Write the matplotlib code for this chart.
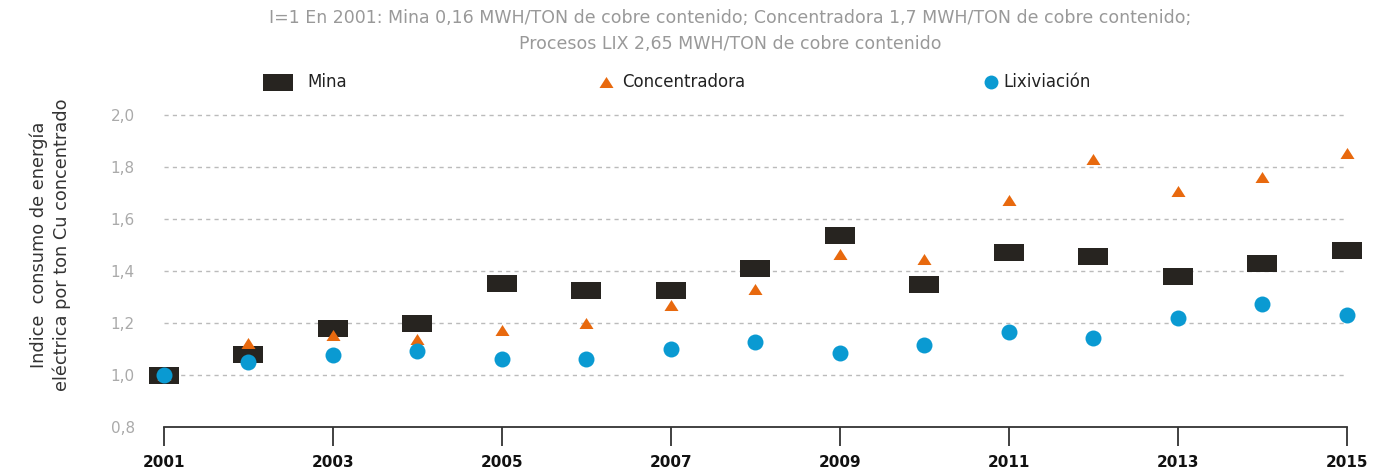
import numpy as np
import matplotlib
matplotlib.use("Agg")
import matplotlib.pyplot as plt
from matplotlib.lines import Line2D

years = np.arange(2001, 2016)
mina = [1.00, 1.078, 1.178, 1.201, 1.352, 1.325, 1.325, 1.413, 1.537, 1.348,
        1.471, 1.456, 1.382, 1.432, 1.479]
concentradora = [1.00, 1.123, 1.153, 1.136, 1.172, 1.200, 1.268, 1.332, 1.467, 1.447,
                 1.673, 1.832, 1.709, 1.763, 1.855]
lixiviacion = [1.00, 1.047, 1.076, 1.093, 1.061, 1.061, 1.099, 1.125, 1.083, 1.114,
               1.165, 1.142, 1.220, 1.273, 1.231]
series_names = ["Mina", "Concentradora", "Lixiviación"]
yticks = [0.8, 1.0, 1.2, 1.4, 1.6, 1.8, 2.0]
xticks = [2001, 2003, 2005, 2007, 2009, 2011, 2013, 2015]

c_mina = "#272420"
c_conc = "#E8690E"
c_lix = "#0A9AD2"

rect = [(-15, -8.5), (15, -8.5), (15, 8.5), (-15, 8.5), (-15, -8.5)]
tri = [(-7, -5.5), (7, -5.5), (0, 5.5), (-7, -5.5)]

fig = plt.figure(figsize=(13.98, 4.74), dpi=100)
ax = fig.add_axes([0.1173, 0.1002, 0.8462, 0.6785])

ax.plot(years, mina, ls="none", marker=rect, ms=21.6, color=c_mina, mew=0, clip_on=False, zorder=3)
ax.plot(years, concentradora, ls="none", marker=tri, ms=10.1, color=c_conc, mew=0, clip_on=False, zorder=4)
ax.plot(years, lixiviacion, ls="none", marker="o", ms=11.5, color=c_lix, mew=0, clip_on=False, zorder=5)

ax.set_xlim(2001, 2015)
ax.set_ylim(0.8, 2.04)
ax.set_yticks(yticks)
ax.set_yticklabels([f"{v:.1f}".replace(".", ",") for v in yticks])
ax.set_xticks(xticks)
ax.set_xticklabels([str(x) for x in xticks], fontweight="bold", fontsize=11)

for v in yticks[1:]:
    ax.axhline(v, color="#BBBBBB", lw=1, ls=(0, (3, 3)), zorder=1)

for s in ["top", "right", "left"]:
    ax.spines[s].set_visible(False)
ax.spines["bottom"].set_color("#333333")
ax.spines["bottom"].set_linewidth(1.3)
ax.tick_params(axis="x", length=13.7, width=1.3, color="#333333", pad=7, labelcolor="#111111")
ax.tick_params(axis="y", length=0, pad=21, labelcolor="#AAAAAA", labelsize=11)

ax.set_ylabel("Indice  consumo de energía\neléctrica por ton Cu concentrado", fontsize=12.8,
              color="#333333", linespacing=1.25)
ax.yaxis.set_label_coords(-0.079, 0.564)

fig.text(0.522, 1 - 31 / 474, "I=1 En 2001: Mina 0,16 MWH/TON de cobre contenido; Concentradora 1,7 MWH/TON de cobre contenido;\nProcesos LIX 2,65 MWH/TON de cobre contenido",
         ha="center", va="center", fontsize=12.5, color="#999999", linespacing=1.55)

# legend drawn by hand to match spacing
leg_y = 1 - 82 / 474
handles = [(278, rect, 21.6, c_mina, 307), (606, tri, 10.1, c_conc, 622), (991, "o", 10, c_lix, 1003)]
for (hx, m, ms, c, tx), name in zip(handles, series_names):
    fig.add_artist(Line2D([hx / 1398], [leg_y], transform=fig.transFigure, ls="none",
                          marker=m, ms=ms, color=c, mew=0))
    fig.text(tx / 1398, leg_y, name, ha="left", va="center", fontsize=12, color="#222222")

fig.savefig("out.png", dpi=100)
